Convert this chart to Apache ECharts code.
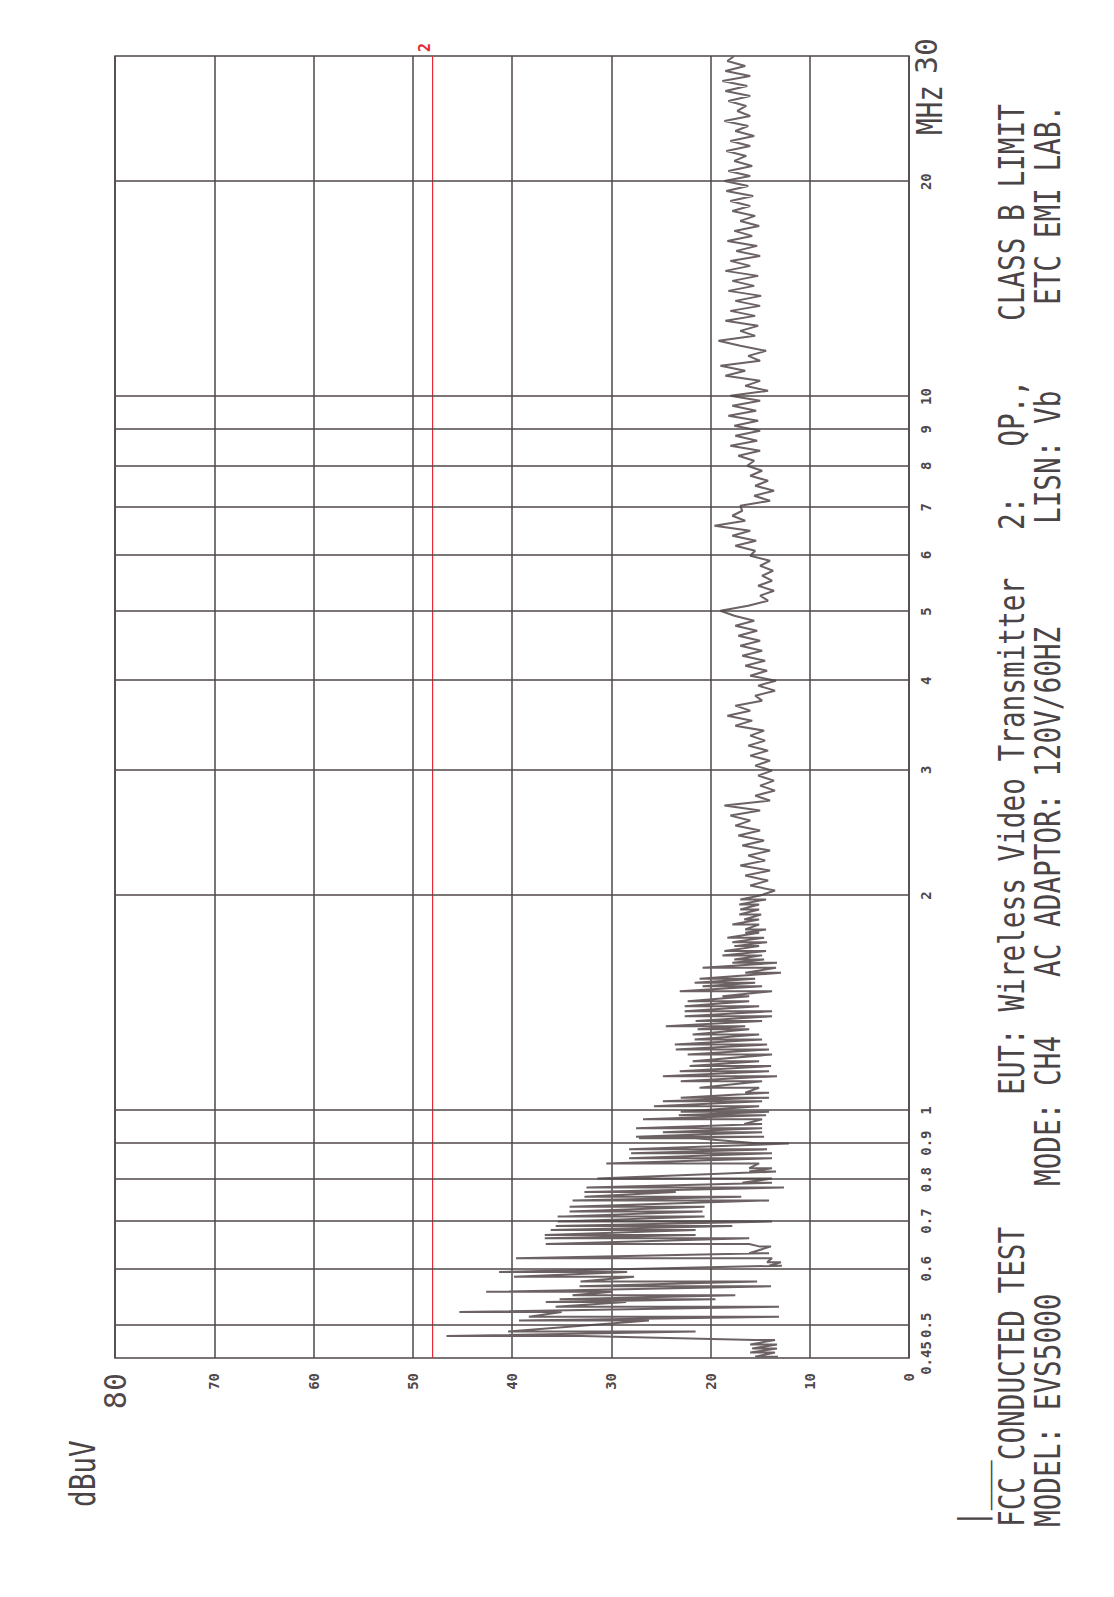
<!DOCTYPE html>
<html>
<head>
<meta charset="utf-8">
<script src="https://cdn.jsdelivr.net/npm/echarts@6/dist/echarts.min.js"></script>
<style>
html, body { margin: 0; padding: 0; width: 1114px; height: 1597px; overflow: hidden; background: #fff; }
/* the plot is printed sideways: draw it landscape, then turn it */
#chart { position: absolute; left: 0; top: 1597px; width: 1597px; height: 1114px; transform-origin: 0 0; transform: rotate(-90deg); }
</style>
</head>
<body>
<div id="chart"></div>
<script>
// 0.45 - 2 MHz: the trace is a run of spikes, one low and one high per step
const spikeFreq = [
  0.452, 0.458, 0.464, 0.470, 0.477, 0.483, 0.490, 0.508, 0.514, 0.522,
  0.531, 0.539, 0.544, 0.551, 0.557, 0.567, 0.576, 0.585, 0.594, 0.606,
  0.613, 0.621, 0.631, 0.645, 0.650, 0.662, 0.669, 0.680, 0.689, 0.699,
  0.710, 0.722, 0.733, 0.748, 0.757, 0.769, 0.780, 0.792, 0.803, 0.821,
  0.830, 0.843, 0.857, 0.871, 0.882, 0.899, 0.914, 0.919, 0.932, 0.944,
  0.957, 0.972, 0.985, 0.996,
  1.014, 1.030, 1.042, 1.059, 1.076, 1.099, 1.117, 1.135, 1.154, 1.172,
  1.198, 1.217, 1.237, 1.257, 1.278, 1.299, 1.312, 1.334, 1.355, 1.377,
  1.400, 1.422, 1.445, 1.469, 1.493, 1.510, 1.529, 1.559, 1.584, 1.610,
  1.627, 1.649, 1.672, 1.699, 1.721, 1.745, 1.774, 1.793, 1.822, 1.851,
  1.881, 1.912, 1.943, 1.975
];
const spikeHigh = [
  15.5, 16.0, 15.8, 16.0, 15.5, 46.6, 40.4, 39.3, 38.3, 45.3,
  35.6, 36.6, 35.2, 33.9, 42.6, 33.2, 33.1, 39.8, 41.3, 14.1,
  14.3, 39.6, 16.1, 15.1, 36.6, 36.7, 36.7, 36.1, 35.6, 35.4,
  35.4, 34.2, 34.2, 33.9, 32.7, 32.7, 32.5, 16.8, 31.4, 16.1,
  16.1, 30.5, 28.2, 28.0, 28.2, 15.1, 27.2, 27.5, 24.8, 27.5,
  16.6, 26.8, 23.2, 23.0,
  25.7, 24.8, 23.0, 16.5, 21.1, 23.0, 24.8, 23.1, 22.1, 21.8,
  22.3, 23.5, 23.6, 21.6, 21.8, 21.3, 24.5, 21.5, 22.6, 22.6,
  22.6, 22.3, 18.8, 23.1, 20.8, 21.6, 21.1, 16.5, 20.8, 17.8,
  17.6, 18.8, 18.6, 17.6, 17.8, 18.3, 16.5, 16.5, 17.8, 16.6,
  17.1, 17.0, 17.1, 17.0
];
const spikeLow = [
  13.2, 13.5, 13.3, 13.3, 13.5, 33.0, 21.5, 26.2, 13.1, 35.0,
  13.1, 28.5, 19.5, 17.5, 29.9, 13.9, 15.3, 27.7, 28.4, 12.8,
  12.9, 13.8, 14.1, 13.9, 16.1, 16.1, 21.5, 21.5, 17.8, 13.8,
  20.6, 20.8, 20.6, 14.1, 16.9, 23.5, 12.6, 13.8, 13.8, 13.4,
  13.8, 15.1, 13.8, 13.8, 14.3, 12.1, 21.5, 14.6, 14.8, 14.8,
  14.8, 14.8, 14.4, 14.1,
  15.1, 14.8, 14.1, 14.1, 15.1, 14.8, 13.3, 14.1, 13.9, 15.1,
  13.8, 14.1, 14.3, 14.8, 15.1, 16.1, 16.5, 14.8, 13.8, 13.8,
  15.1, 16.1, 16.1, 13.8, 14.8, 15.5, 15.5, 12.9, 13.4, 13.3,
  14.6, 14.8, 14.4, 15.1, 14.3, 14.6, 15.1, 14.4, 15.1, 15.1,
  14.9, 15.1, 15.1, 14.4
];

// 2 - 30 MHz: sweep steps evenly spaced on the log scale
const sweepStart = 2;
const sweepStop = 30;
const sweepLevel = [
  15.0, 13.5, 16.0, 14.2, 16.5, 14.0, 17.0, 14.5, 16.2, 14.0,
  16.8, 14.6, 17.2, 15.0, 17.5, 16.0, 18.0, 15.0, 18.6, 14.0,
  15.5, 13.5, 15.0, 13.6, 15.2, 13.8, 15.5, 14.0, 16.0, 14.2,
  16.2, 14.5, 16.0, 14.6, 17.5, 15.8, 18.3, 16.0, 17.5, 14.8,
  15.5, 13.5, 15.2, 13.4, 16.0, 14.3, 16.5, 14.5, 16.8, 14.8,
  17.0, 15.0, 17.2, 15.3, 17.5, 15.6, 17.6, 19.0, 16.2, 14.2,
  15.0, 13.6, 15.2, 13.8, 14.8, 13.7, 15.0, 14.0, 16.0, 15.5,
  17.5, 15.4, 17.8, 16.0, 19.6, 16.5, 17.8, 16.8, 17.0, 14.0,
  15.6, 13.6, 15.5, 14.2, 16.0, 14.8, 16.3, 15.6, 17.2, 15.0,
  18.0, 15.3, 17.5, 15.0, 17.6, 15.2, 18.2, 15.4, 17.8, 15.0,
  18.0, 14.2, 16.5, 15.0, 18.5, 16.5, 19.0, 15.0, 16.2, 14.4,
  17.0, 19.2, 15.5, 17.0, 15.2, 18.5, 15.5, 18.0, 15.0, 17.5,
  14.9, 18.2, 15.6, 17.8, 15.2, 18.5, 16.0, 18.0, 15.0, 17.4,
  15.3, 18.3, 15.8, 17.6, 15.1, 17.0, 15.5, 17.8, 16.0, 18.0,
  15.7, 18.4, 16.2, 18.6, 16.0, 18.2, 15.8, 17.6, 16.4, 18.4,
  16.0, 18.0, 15.6, 17.5, 16.2, 18.6, 16.0, 17.3, 16.4, 18.2,
  16.0, 18.5, 16.3, 18.8, 16.0, 18.5, 16.5, 18.3, 17.6
];

// class B quasi-peak limit (line "2")
const limitFreq = [0.45, 30];
const limitLevel = [48, 48];

const freqTicks = [0.45, 0.5, 0.6, 0.7, 0.8, 0.9, 1, 2, 3, 4, 5, 6, 7, 8, 9, 10, 20, 30];
const freqGrid = [0.5, 0.6, 0.7, 0.8, 0.9, 1, 2, 3, 4, 5, 6, 7, 8, 9, 10, 20];

const mono = '"DejaVu Sans Mono", "Liberation Mono", monospace';
const ink = '#4f4749';
const traceColor = '#6c6264';
const red = '#e62b36';

const trace = [];
spikeFreq.forEach((f, i) => {
  trace.push([f, spikeLow[i]], [f, spikeHigh[i]]);
});
sweepLevel.forEach((v, i) => {
  const f = sweepStart * Math.pow(sweepStop / sweepStart, i / (sweepLevel.length - 1));
  trace.push([f, v]);
});

// header printed under the plot (landscape coords)
const notes = [
  ['|___', 70, 972],
  ['FCC CONDUCTED TEST', 70, 1012],
  ['EUT: Wireless Video Transmitter', 502, 1012],
  ['2:   QP.,', 1067, 1012],
  ['CLASS B LIMIT', 1276, 1012],
  ['MODEL: EVS5000', 70, 1048],
  ['MODE: CH4', 411, 1048],
  ['AC ADAPTOR: 120V/60HZ', 620, 1048],
  ['LISN: Vb', 1073, 1048],
  ['ETC EMI LAB.', 1292, 1048],
  ['dBuV', 90, 83],
  ['MHz', 1462, 930]
];

const chart = echarts.init(document.getElementById('chart'), null, { renderer: 'svg' });

const option = {
  backgroundColor: '#fff',
  animation: false,
  grid: {
    left: 239, right: 56, top: 115, bottom: 205,
    show: true, borderColor: ink, borderWidth: 1.5
  },
  xAxis: {
    type: 'log',
    logBase: 10,
    min: 0.45,
    max: 30,
    axisLine: { show: false },
    axisTick: { show: false },
    splitLine: { show: false },
    axisLabel: {
      customValues: freqTicks,
      margin: 10,
      color: ink,
      fontFamily: mono,
      fontWeight: 'bold',
      fontSize: 14,
      formatter: v => {
        const t = String(Math.round(v * 100) / 100);
        return v > 29 ? '{big|' + t + '}' : t;
      },
      rich: {
        big: { fontSize: 30, fontWeight: 'normal', fontFamily: mono, lineHeight: 14, color: ink }
      }
    }
  },
  yAxis: {
    type: 'value',
    min: 0,
    max: 80,
    interval: 10,
    axisLine: { show: false },
    axisTick: { show: false },
    splitLine: { show: true, lineStyle: { color: ink, width: 1.5 } },
    axisLabel: {
      margin: 15,
      color: ink,
      fontFamily: mono,
      fontWeight: 'bold',
      fontSize: 14,
      formatter: v => (v === 80 ? '{big|80}' : String(v)),
      rich: {
        big: { fontSize: 30, fontWeight: 'normal', fontFamily: mono, color: ink }
      }
    }
  },
  graphic: notes.map(([text, u, v]) => ({
    type: 'text',
    x: u,
    y: v,
    scaleX: 0.77,
    silent: true,
    style: {
      text: text,
      fill: '#4a4446',
      fontFamily: mono,
      fontSize: 36,
      align: 'left',
      verticalAlign: 'middle'
    }
  })),
  series: [
    {
      // frequency grid
      type: 'line',
      data: [],
      z: 1,
      silent: true,
      markLine: {
        silent: true,
        symbol: 'none',
        animation: false,
        label: { show: false },
        lineStyle: { color: ink, width: 1.5, type: 'solid' },
        data: freqGrid.map(f => ({ xAxis: f }))
      }
    },
    {
      name: 'limit',
      type: 'line',
      z: 2,
      data: limitFreq.map((f, i) => [f, limitLevel[i]]),
      symbol: 'none',
      silent: true,
      lineStyle: { color: red, width: 1.2 },
      endLabel: {
        show: true,
        formatter: '2',
        color: red,
        fontFamily: mono,
        fontWeight: 'bold',
        fontSize: 15,
        distance: 4,
        offset: [0, -8]
      }
    },
    {
      name: 'trace',
      type: 'line',
      z: 3,
      data: trace,
      symbol: 'none',
      silent: true,
      lineStyle: { color: traceColor, width: 2 }
    }
  ]
};

chart.setOption(option);
</script>
</body>
</html>
